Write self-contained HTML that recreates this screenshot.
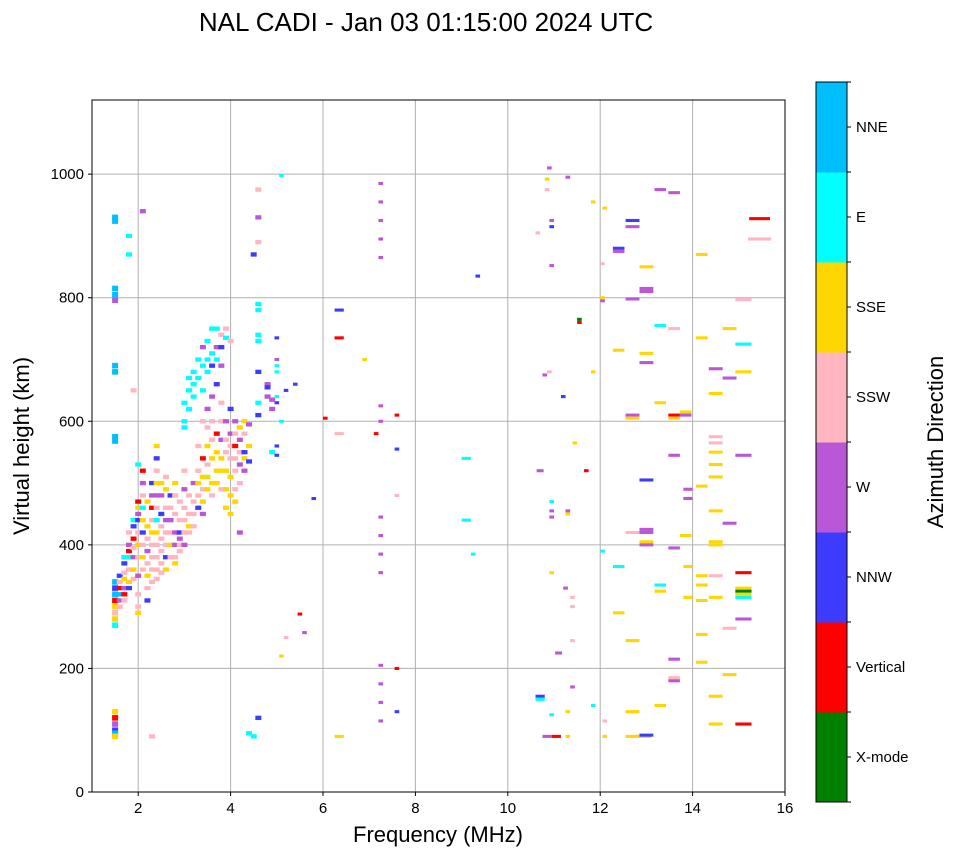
<!DOCTYPE html>
<html><head><meta charset="utf-8"><style>
body{margin:0;background:#fff;font-family:"Liberation Sans",sans-serif}
svg text{font-family:"Liberation Sans",sans-serif}
</style></head><body>
<svg id="chart" width="958" height="857" xmlns="http://www.w3.org/2000/svg">
<text x="426" y="31" font-size="26" text-anchor="middle">NAL CADI - Jan 03 01:15:00 2024 UTC</text>
<g id="grid"></g>
<g id="marks"></g>
<rect x="92" y="100" width="693" height="692" fill="none" stroke="#000" stroke-width="1"/>
<g id="xticks"></g><g id="yticks"></g>
<text x="438" y="842" font-size="22" text-anchor="middle">Frequency (MHz)</text>
<text transform="translate(29,446) rotate(-90)" font-size="22" text-anchor="middle">Virtual height (km)</text>
<g id="cbar"></g>
<text transform="translate(943,442) rotate(-90)" font-size="22" text-anchor="middle">Azimuth Direction</text>
</svg>
<script>
const xTicks=[2,4,6,8,10,12,14,16];
const yTicks=[0,200,400,600,800,1000];
const dirNames=["X-mode","Vertical","NNW","W","SSW","SSE","E","NNE"];
const dirColors=["#008000","#ff0000","#3c3cff","#b957d6","#ffb6c1","#ffd700","#00ffff","#00bfff"];
// [freq MHz, height km, direction index, width MHz(optional)]
const obs=[
[1.5,930,7],[1.5,924,7],[1.5,815,7],[1.5,805,7],[1.5,796,3],[1.5,690,7],[1.5,680,7],[1.5,575,7],[1.5,568,7],[1.5,340,7],[1.5,330,2],[1.5,320,7],[1.5,310,1],[1.5,300,5],[1.5,290,4],[1.5,280,5],[1.5,270,6],[1.5,130,5],[1.5,120,1],[1.5,110,3],[1.5,100,2],[1.5,95,7],[1.5,90,5],
[1.6,350,2],[1.6,340,4],[1.6,330,1],[1.6,320,7],[1.6,310,3],[1.6,300,4],
[1.7,370,2],[1.7,355,4],[1.7,345,5],[1.7,330,3],[1.7,320,1],[1.7,310,4],[1.7,380,6],
[1.8,400,3],[1.8,390,1],[1.8,380,6],[1.8,360,4],[1.8,340,5],[1.8,330,2],[1.8,420,4],[1.8,900,6],[1.8,870,6],
[1.9,440,6],[1.9,430,2],[1.9,410,1],[1.9,395,4],[1.9,380,3],[1.9,360,5],[1.9,345,4],[1.9,650,4],
[2.0,530,6],[2.0,470,1],[2.0,460,5],[2.0,450,3],[2.0,440,2],[2.0,420,4],[2.0,400,5],[2.0,380,4],[2.0,350,3],[2.0,320,4],[2.0,300,4],[2.0,290,5],
[2.1,520,1],[2.1,500,3],[2.1,480,4],[2.1,460,6],[2.1,440,5],[2.1,420,2],[2.1,400,4],[2.1,380,5],[2.1,360,4],[2.1,940,3],
[2.2,470,5],[2.2,430,5],[2.2,410,4],[2.2,390,3],[2.2,370,4],[2.2,350,5],[2.2,330,4],[2.2,310,2],
[2.3,500,2],[2.3,480,3],[2.3,460,1],[2.3,440,4],[2.3,420,5],[2.3,400,4],[2.3,380,4],[2.3,360,4],[2.3,340,4],[2.3,90,4],
[2.4,560,5],[2.4,540,2],[2.4,520,4],[2.4,500,5],[2.4,480,3],[2.4,460,4],[2.4,440,6],[2.4,420,5],[2.4,400,4],[2.4,380,4],[2.4,360,4],[2.4,345,4],
[2.5,500,5],[2.5,480,3],[2.5,450,2],[2.5,430,4],[2.5,410,4],[2.5,390,4],[2.5,370,4],[2.5,355,4],
[2.6,510,4],[2.6,490,5],[2.6,460,4],[2.6,440,3],[2.6,420,4],[2.6,400,4],[2.6,380,2],[2.6,360,5],
[2.7,480,2],[2.7,460,4],[2.7,440,3],[2.7,420,4],[2.7,400,5],[2.7,380,4],
[2.8,500,5],[2.8,480,4],[2.8,450,4],[2.8,420,3],[2.8,400,3],[2.8,380,4],[2.8,370,5],
[2.9,470,4],[2.9,440,4],[2.9,420,2],[2.9,410,3],[2.9,400,4],[2.9,390,4],
[3.0,600,6],[3.0,590,6],[3.0,630,6],[3.0,520,4],[3.0,490,3],[3.0,460,4],[3.0,440,4],[3.0,420,4],[3.0,400,3],
[3.1,670,6],[3.1,650,6],[3.1,620,6],[3.1,480,4],[3.1,450,4],[3.1,430,5],[3.1,420,4],
[3.2,680,6],[3.2,660,6],[3.2,640,6],[3.2,500,3],[3.2,470,4],[3.2,450,4],[3.2,430,4],
[3.3,700,6],[3.3,670,6],[3.3,560,4],[3.3,520,4],[3.3,500,5],[3.3,480,4],[3.3,460,2],
[3.4,720,3],[3.4,690,6],[3.4,650,6],[3.4,600,4],[3.4,540,1],[3.4,510,5],[3.4,490,4],[3.4,470,5],[3.4,450,3],
[3.5,730,6],[3.5,700,6],[3.5,680,6],[3.5,620,3],[3.5,590,4],[3.5,560,5],[3.5,530,4],[3.5,510,5],[3.5,490,5],
[3.6,750,6],[3.6,710,6],[3.6,690,2],[3.6,640,3],[3.6,600,4],[3.6,570,4],[3.6,540,5],[3.6,500,5],[3.6,480,4],
[3.7,750,6],[3.7,720,3],[3.7,700,6],[3.7,660,2],[3.7,580,1],[3.7,550,5],[3.7,520,5],[3.7,500,5],
[3.8,740,4],[3.8,720,2],[3.8,690,3],[3.8,630,4],[3.8,600,4],[3.8,570,3],[3.8,540,5],[3.8,520,5],[3.8,490,4],
[3.9,750,4],[3.9,735,6],[3.9,600,3],[3.9,570,4],[3.9,550,4],[3.9,520,5],[3.9,490,5],[3.9,460,5],
[4.0,730,4],[4.0,620,2],[4.0,580,3],[4.0,560,4],[4.0,540,4],[4.0,510,5],[4.0,480,5],[4.0,450,5],
[4.1,600,3],[4.1,580,4],[4.1,560,1],[4.1,540,4],[4.1,520,4],[4.1,490,4],[4.1,470,5],
[4.2,590,5],[4.2,570,3],[4.2,550,4],[4.2,530,3],[4.2,500,4],[4.2,420,3],
[4.3,600,5],[4.3,580,4],[4.3,550,2],[4.3,540,5],[4.3,520,3],
[4.4,595,3],[4.4,560,5],[4.4,535,2],[4.4,95,6],[4.5,90,6],[4.6,120,2],
[4.6,790,6],[4.6,780,6],[4.6,740,6],[4.6,730,6],[4.6,680,2],[4.6,630,6],[4.6,610,2],[4.6,975,4],[4.6,930,3],[4.6,890,4],[4.5,870,2],
[4.8,660,3],[4.8,655,2],[4.8,640,3],[4.9,635,3],[4.9,620,3],[4.9,550,6],
[5.0,735,2],[5.0,700,3],[5.0,690,6],[5.0,680,6],[5.0,640,6],[5.0,630,2],[5.0,560,2],[5.0,545,2],
[5.1,998,6],[5.1,600,6],[5.2,650,2],[5.4,660,2],[5.2,250,4],[5.1,220,5],[5.5,288,1],[5.6,258,3],[5.8,475,2],[6.05,605,1],
[6.35,780,2,0.2],[6.35,735,1,0.2],[6.35,580,4,0.2],[6.35,90,5,0.2],[6.9,700,5],
[7.25,985,3],[7.25,955,3],[7.25,925,3],[7.25,895,3],[7.25,865,3],[7.25,625,3],[7.25,600,3],[7.15,580,1],[7.25,445,3],[7.25,415,3],[7.25,385,3],[7.25,355,3],[7.25,205,3],[7.25,175,3],[7.25,145,3],[7.25,115,3],
[7.6,610,1],[7.6,555,2],[7.6,480,4],[7.6,200,1],[7.6,130,2],
[9.1,540,6,0.2],[9.1,440,6,0.2],[9.25,385,6],[9.35,835,2],
[10.7,520,3,0.15],[10.7,155,2,0.2],[10.7,150,6,0.2],[10.65,905,4],
[10.9,1010,3],[10.85,975,4],[10.95,925,3],[10.95,915,2],[10.95,852,3],[10.85,992,5],[10.9,680,4],[10.8,675,3],[10.95,470,6],[10.95,455,3],[10.95,445,3],[10.95,355,5],[10.95,125,6],[10.85,90,3,0.2],[11.05,90,1,0.2],
[11.3,995,3],[11.2,640,2],[11.3,455,3],[11.3,450,5],[11.25,330,3],[11.4,315,4],[11.4,300,4],[11.4,245,4],[11.1,225,3,0.15],[11.4,170,3],[11.3,130,5],[11.3,90,5],
[11.55,765,0],[11.55,760,1],[11.45,565,5],[11.7,520,1],
[11.85,955,5],[11.85,680,5],[11.85,140,6],
[12.1,945,5],[12.05,855,4],[12.05,800,5],[12.05,795,3],[12.05,390,6],[12.1,115,4],[12.1,90,5],
[12.4,880,2,0.25],[12.4,875,3,0.25],[12.4,715,5,0.25],[12.4,365,6,0.25],[12.4,290,5,0.25],
[12.7,925,2,0.3],[12.7,915,3,0.3],[12.7,798,3,0.3],[12.7,610,3,0.3],[12.7,605,5,0.3],[12.7,420,4,0.3],[12.7,245,5,0.3],[12.7,130,5,0.3],[12.7,90,5,0.3],
[13.0,850,5,0.3],[13.0,815,3,0.3],[13.0,810,3,0.3],[13.0,710,5,0.3],[13.0,695,3,0.3],[13.0,505,2,0.3],[13.0,425,3,0.3],[13.0,420,3,0.3],[13.0,405,5,0.3],[13.0,400,3,0.3],[12.95,90,5,0.3],[13.0,92,2,0.3],
[13.3,975,3,0.25],[13.3,755,6,0.25],[13.3,630,5,0.25],[13.3,335,6,0.25],[13.3,325,5,0.25],[13.3,140,5,0.25],
[13.6,970,3,0.25],[13.6,750,4,0.25],[13.6,610,1,0.25],[13.6,605,5,0.25],[13.6,545,3,0.25],[13.6,395,3,0.25],[13.6,215,3,0.25],[13.6,185,4,0.25],[13.6,180,3,0.25],
[13.85,615,5,0.25],[13.85,610,3,0.25],[13.85,415,5,0.25],[13.9,365,5,0.2],[13.9,315,5,0.2],[13.9,475,3,0.2],[13.9,490,3,0.2],
[14.2,870,5,0.25],[14.2,735,5,0.25],[14.2,495,5,0.25],[14.2,350,5,0.25],[14.2,335,5,0.25],[14.2,310,5,0.25],[14.2,255,5,0.25],[14.2,210,5,0.25],
[14.5,685,3,0.3],[14.5,645,5,0.3],[14.5,575,4,0.3],[14.5,565,4,0.3],[14.5,550,5,0.3],[14.5,530,5,0.3],[14.5,510,5,0.3],[14.5,455,5,0.3],[14.5,405,5,0.3],[14.5,400,5,0.3],[14.5,350,4,0.3],[14.5,315,5,0.3],[14.5,155,5,0.3],[14.5,110,5,0.3],
[14.8,750,5,0.3],[14.8,670,3,0.3],[14.8,435,3,0.3],[14.8,265,4,0.3],[14.8,190,5,0.3],
[15.1,725,6,0.35],[15.1,680,5,0.35],[15.1,545,3,0.35],[15.1,355,1,0.35],[15.1,330,5,0.35],[15.1,325,0,0.35],[15.1,320,5,0.35],[15.1,315,6,0.35],[15.1,280,3,0.35],[15.1,110,1,0.35],[15.1,797,4,0.35],
[15.45,928,1,0.45],[15.45,895,4,0.5]
];
const NS="http://www.w3.org/2000/svg";
const X0=92,X1=785,Y0=792,Y1=100,FMIN=1,FMAX=16,HMAX=1120;
const xs=f=>X0+(f-FMIN)/(FMAX-FMIN)*(X1-X0);
const ys=h=>Y0-h/HMAX*(Y0-Y1);
function mk(tag,attrs,parent){const e=document.createElementNS(NS,tag);for(const k in attrs)e.setAttribute(k,attrs[k]);parent.appendChild(e);return e;}
const grid=document.getElementById('grid'),marks=document.getElementById('marks');
const xt=document.getElementById('xticks'),yt=document.getElementById('yticks'),cb=document.getElementById('cbar');
xTicks.forEach(t=>{const x=xs(t);
 if(t<FMAX){const l=mk('line',{x1:x,x2:x,y1:Y1,y2:Y0,stroke:'#b0b0b0','stroke-width':1},grid);
 
 }
 mk('line',{x1:x,x2:x,y1:Y0,y2:Y0+4,stroke:'#000'},xt);
 const tx=mk('text',{x:x,y:Y0+21,'font-size':15,'text-anchor':'middle'},xt);tx.textContent=t;
 
 });
yTicks.forEach(t=>{const y=ys(t);
 const l=mk('line',{x1:X0,x2:X1,y1:y,y2:y,stroke:'#b0b0b0','stroke-width':1},grid);
 
 
 mk('line',{x1:X0-4,x2:X0,y1:y,y2:y,stroke:'#000'},yt);
 const tx=mk('text',{x:X0-8,y:y+5,'font-size':15,'text-anchor':'end'},yt);tx.textContent=t;
 
 });
obs.forEach(o=>{const w=(o[3]||(o[0]<5?0.13:0.1));const x=xs(o[0]-w/2);const h=(o[0]<1.55?9:(o[0]<5?7:5));
 const r=mk('rect',{x:x,y:ys(o[1]+h/2),width:Math.max(2,xs(o[0]+w/2)-x),height:Math.max(2.5,ys(o[1]-h/2)-ys(o[1]+h/2)),fill:dirColors[o[2]]},marks);
 
 });
const CB0=816,CBW=31,CBT=82,CBB=802,seg=(CBB-CBT)/dirNames.length;
dirNames.forEach((n,i)=>{const y=CBB-(i+1)*seg;
 const r=mk('rect',{x:CB0,y:y,width:CBW,height:seg+0.5,fill:dirColors[i]},cb);
 
 
 const yc=y+seg/2;
 mk('line',{x1:CB0+CBW,x2:CB0+CBW+4,y1:yc,y2:yc,stroke:'#000'},cb);
 const t=mk('text',{x:CB0+CBW+9,y:yc+5,'font-size':15},cb);t.textContent=n;
 
 });
for(let i=0;i<=dirNames.length;i++){const y=CBB-i*seg;mk('line',{x1:CB0+CBW,x2:CB0+CBW+4,y1:y,y2:y,stroke:'#000'},cb);}
mk('rect',{x:CB0,y:CBT,width:CBW,height:CBB-CBT,fill:'none',stroke:'#000'},cb);
</script>
</body></html>
